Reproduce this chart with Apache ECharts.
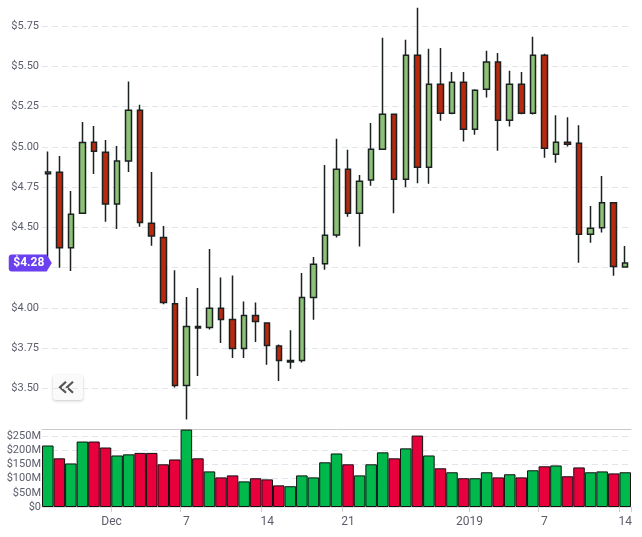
<!DOCTYPE html>
<html>
<head>
<meta charset="utf-8">
<script src="https://cdn.jsdelivr.net/npm/echarts@6/dist/echarts.min.js"></script>
<style>
html,body{margin:0;padding:0;background:#fff;}
#chart{width:642px;height:537px;}
</style>
</head>
<body>
<div id="chart"></div>
<script>
const dates = ['2018-11-25','2018-11-26','2018-11-27','2018-11-28','2018-11-29','2018-11-30',
'2018-12-01','2018-12-02','2018-12-03','2018-12-04','2018-12-05','2018-12-06','2018-12-07','2018-12-08',
'2018-12-09','2018-12-10','2018-12-11','2018-12-12','2018-12-13','2018-12-14','2018-12-15','2018-12-16',
'2018-12-17','2018-12-18','2018-12-19','2018-12-20','2018-12-21','2018-12-22','2018-12-23','2018-12-24',
'2018-12-25','2018-12-26','2018-12-27','2018-12-28','2018-12-29','2018-12-30','2018-12-31','2019-01-01',
'2019-01-02','2019-01-03','2019-01-04','2019-01-05','2019-01-06','2019-01-07','2019-01-08','2019-01-09',
'2019-01-10','2019-01-11','2019-01-12','2019-01-13','2019-01-14'];

const opens  = [4.832,4.842,4.374,4.587,5.028,4.966,4.645,4.911,5.227,4.525,4.438,4.026,3.520,3.886,3.880,3.998,3.929,3.749,3.954,3.908,3.764,3.665,3.675,4.066,4.275,4.453,4.860,4.587,4.794,4.985,5.202,4.798,5.568,4.873,5.388,5.208,5.400,5.109,5.357,5.525,5.165,5.388,5.208,5.568,4.954,5.028,5.022,4.457,4.498,4.653,4.255];
const closes = [4.844,4.374,4.581,5.026,4.972,4.645,4.911,5.227,4.531,4.446,4.035,3.520,3.886,3.876,3.998,3.929,3.749,3.954,3.917,3.768,3.675,3.675,4.066,4.271,4.451,4.860,4.587,4.786,4.985,5.202,4.798,5.568,4.873,5.388,5.208,5.400,5.109,5.351,5.525,5.165,5.388,5.208,5.568,4.991,5.028,5.015,4.457,4.494,4.653,4.258,4.280];
const lows   = [4.270,4.250,4.229,4.585,4.831,4.535,4.490,4.844,4.504,4.386,4.023,3.507,3.309,3.579,3.867,3.784,3.691,3.691,3.790,3.648,3.548,3.623,3.663,3.927,4.237,4.438,4.566,4.381,4.759,4.985,4.587,4.749,4.774,4.771,5.162,5.202,5.032,5.075,5.305,4.976,5.125,5.202,5.200,4.932,4.901,5.001,4.281,4.405,4.469,4.200,4.255];
const highs  = [4.970,4.943,4.726,5.154,5.129,5.042,5.005,5.404,5.260,4.844,4.509,4.235,4.068,4.124,4.366,4.190,4.202,4.041,4.035,3.908,3.774,3.863,4.217,4.316,4.887,5.049,4.981,4.825,5.148,5.676,5.205,5.663,5.862,5.607,5.613,5.464,5.464,5.357,5.595,5.582,5.471,5.464,5.682,5.576,5.196,5.183,5.134,4.633,4.819,4.655,4.384];
const volumes = [216,171,153,230,230,209,181,185,190,190,150,167,272,171,125,104,111,90,101,97,76,73,111,104,157,188,150,111,150,192,171,206,251,181,136,122,101,101,122,104,115,104,129,143,146,108,139,122,125,118,122];

const tickDates = ['2018-12-01','2018-12-07','2018-12-14','2018-12-21','2019-01-01','2019-01-07','2019-01-14'];
const tickTexts = ['Dec','7','14','21','2019','7','14'];
const monthTicks = ['2018-12-01','2019-01-01'];

const UP_FILL = '#8cc176', DOWN_FILL = '#b82a0e';
const VOL_UP = '#00b84c', VOL_DOWN = '#e8003d';
const LABEL_COLOR = '#5b5d6b';
const FONT = 'Roboto';

const candleData = dates.map((d, i) => [opens[i], closes[i], lows[i], highs[i]]);
const volData = volumes.map((v, i) => ({
  value: v,
  itemStyle: { color: closes[i] >= opens[i] ? VOL_UP : VOL_DOWN }
}));
const lastClose = closes[closes.length - 1];

const isTick = (idx, val) => tickDates.indexOf(val) >= 0;

const chart = echarts.init(document.getElementById('chart'), null, { renderer: 'canvas' });
chart.setOption({
  animation: false,
  backgroundColor: '#ffffff',
  grid: [
    { left: 42, right: 11, top: 0, height: 429 },
    { left: 42, right: 11, top: 429, height: 78 }
  ],
  xAxis: [
    {
      type: 'category', gridIndex: 0, data: dates, boundaryGap: true,
      axisLine: { show: true, lineStyle: { color: '#c9c9c9', width: 1 } },
      axisTick: { show: false }, axisLabel: { show: false }, splitLine: { show: false }
    },
    {
      type: 'category', gridIndex: 1, data: dates, boundaryGap: true,
      axisLine: { show: true, lineStyle: { color: '#e2e2e2', width: 1 } },
      axisTick: { show: true, interval: isTick, length: 5, lineStyle: { color: '#cfcfcf' } },
      axisLabel: {
        show: true, interval: isTick, margin: 9,
        color: LABEL_COLOR, fontSize: 12, fontFamily: FONT,
        rich: {
          m: { color: LABEL_COLOR, fontSize: 12, fontFamily: FONT, padding: [0, 11, 0, 0] }
        },
        formatter: (val) => {
          const k = tickDates.indexOf(val);
          if (k < 0) return '';
          return monthTicks.indexOf(val) >= 0 ? '{m|' + tickTexts[k] + '}' : tickTexts[k];
        }
      },
      splitLine: { show: false }
    }
  ],
  yAxis: [
    {
      type: 'value', gridIndex: 0, min: 3.25, max: 5.91, interval: 0.25,
      axisLine: { show: false }, axisTick: { show: false },
      axisLabel: {
        color: LABEL_COLOR, fontSize: 11, fontFamily: FONT, margin: 3,
        showMinLabel: false, showMaxLabel: false,
        formatter: (v) => '$' + v.toFixed(2)
      },
      splitLine: { show: true, showMaxLine: false, showMinLine: false, lineStyle: { color: '#e4e4ec', type: [6, 4], width: 1 } }
    },
    {
      type: 'value', gridIndex: 1, min: 0, max: 274, interval: 50,
      axisLine: { show: false }, axisTick: { show: false },
      axisLabel: {
        color: LABEL_COLOR, fontSize: 11, fontFamily: FONT, margin: 1,
        showMaxLabel: false,
        formatter: (v) => v === 0 ? '$0' : '$' + v + 'M'
      },
      splitLine: { show: true, showMaxLine: false, showMinLine: false, lineStyle: { color: '#e4e4ec', type: [6, 4], width: 1 } }
    }
  ],
  series: [
    {
      type: 'candlestick', xAxisIndex: 0, yAxisIndex: 0,
      data: candleData, barWidth: 6,
      itemStyle: {
        color: UP_FILL, color0: DOWN_FILL,
        borderColor: '#1b2121', borderColor0: '#1b2121', borderWidth: 1.5
      },
      markPoint: {
        silent: true,
        symbol: 'path://M3,0 L37,0 L42,8.5 L37,17 L3,17 Q0,17 0,14 L0,3 Q0,0 3,0 Z',
        symbolSize: [43, 17],
        symbolOffset: [-17.5, 0],
        itemStyle: { color: '#6a40f0' },
        label: {
          show: true, position: 'inside', offset: [-1.5, 0.5],
          color: '#ffffff', fontSize: 12, fontWeight: 'bold', fontFamily: FONT,
          formatter: () => '$' + lastClose.toFixed(2)
        },
        data: [{ coord: [dates[0], lastClose] }]
      }
    },
    {
      type: 'bar', xAxisIndex: 1, yAxisIndex: 1,
      data: volData, barWidth: '100%', barCategoryGap: 0,
      itemStyle: { borderColor: '#111111', borderWidth: 1 }
    }
  ],
  graphic: [
    {
      type: 'group', left: 53, top: 375, silent: true, z: 100,
      children: [
        { type: 'rect', shape: { x: 0, y: 0, width: 30, height: 25, r: 3 },
          style: { fill: '#fafafa', shadowBlur: 3, shadowColor: 'rgba(0,0,0,0.22)', shadowOffsetY: 1 } },
        { type: 'polyline', shape: { points: [[13, 6.7], [7, 12.2], [13, 17.7]] },
          style: { stroke: '#555555', lineWidth: 2.2, fill: null } },
        { type: 'polyline', shape: { points: [[20, 6.7], [14, 12.2], [20, 17.7]] },
          style: { stroke: '#555555', lineWidth: 2.2, fill: null } }
      ]
    }
  ]
});
</script>
</body>
</html>
